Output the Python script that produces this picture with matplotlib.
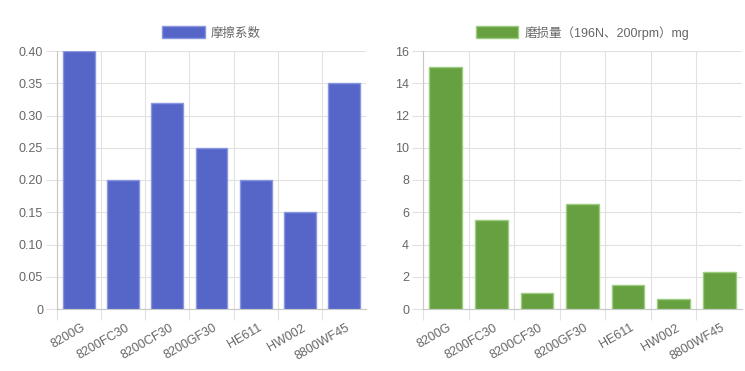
import matplotlib
matplotlib.use("Agg")
import matplotlib.pyplot as plt
import matplotlib.transforms as mtransforms
import numpy as np

plt.rcParams['font.family'] = ['Liberation Sans', 'Noto Sans CJK SC', 'DejaVu Sans']

categories = ["8200G", "8200FC30", "8200CF30", "8200GF30", "HE611", "HW002", "8800WF45"]
friction = [0.40, 0.20, 0.32, 0.25, 0.20, 0.15, 0.35]
wear = [15, 5.5, 1.0, 6.5, 1.5, 0.6, 2.3]
friction_label = "摩擦系数"
wear_label = "磨损量（196N、200rpm）mg"
friction_ticks = [0, 0.05, 0.10, 0.15, 0.20, 0.25, 0.30, 0.35, 0.40]
friction_ticklabels = ["0", "0.05", "0.10", "0.15", "0.20", "0.25", "0.30", "0.35", "0.40"]
wear_ticks = [0, 2, 4, 6, 8, 10, 12, 14, 16]

W, H = 745, 371
fig = plt.figure(figsize=(W / 100, H / 100), dpi=100)

grid_c = "#e1e1e1"
axis_c = "#c8c8c8"
text_c = "#666666"

def setup(ax, vals, color, edge, label, yticks, yticklabels, ymax):
    x = np.arange(len(categories))
    ax.bar(x, vals, width=0.72, color=color, edgecolor=edge, linewidth=1.0, zorder=3)
    ax.set_xlim(-0.5, len(categories) - 0.5)
    ax.set_ylim(0, ymax)
    ax.set_yticks(yticks)
    ax.set_yticklabels(yticklabels)
    ax.set_xticks(x)
    ax.set_xticklabels(categories, rotation=30, ha='right', va='center', rotation_mode='anchor')
    ax.set_xticks(np.arange(-0.5, len(categories) - 1, 1.0), minor=True)
    ax.tick_params(axis='x', which='major', length=0, pad=13, labelsize=9, labelcolor=text_c)
    ax.tick_params(axis='x', which='minor', length=8, color=grid_c, width=0.8)
    ax.tick_params(axis='y', length=8, color=grid_c, width=0.8, labelsize=9, labelcolor=text_c, pad=2)
    offset = mtransforms.ScaledTranslation(5 / 100, 0, fig.dpi_scale_trans)
    for lab in ax.get_xticklabels():
        lab.set_transform(lab.get_transform() + offset)
    ax.grid(True, axis='y', color=grid_c, linewidth=0.8, zorder=0)
    ax.grid(True, axis='x', which='minor', color=grid_c, linewidth=0.8, zorder=0)
    for s in ['top', 'right']:
        ax.spines[s].set_visible(False)
    for s in ['left', 'bottom']:
        ax.spines[s].set_color(axis_c)
        ax.spines[s].set_linewidth(0.8)
    ax.legend([plt.Rectangle((0, 0), 1, 1, facecolor=color, edgecolor=edge)], [label],
              loc='lower center', bbox_to_anchor=(0.5, 1.025), frameon=False,
              handlelength=3.4, handleheight=1.05, fontsize=9, labelcolor=text_c,
              handletextpad=0.5, borderaxespad=0)

ax1 = fig.add_axes([57 / W, (H - 309) / H, (366 - 57) / W, 258 / H])
setup(ax1, friction, "#5566c8", "#8a97e0", friction_label, friction_ticks, friction_ticklabels, 0.40)

ax2 = fig.add_axes([423 / W, (H - 309) / H, (742 - 423) / W, 258 / H])
setup(ax2, wear, "#67a040", "#9ccc80", wear_label, wear_ticks, [str(t) for t in wear_ticks], 16)

fig.savefig("out.png", dpi=100, facecolor="white")
